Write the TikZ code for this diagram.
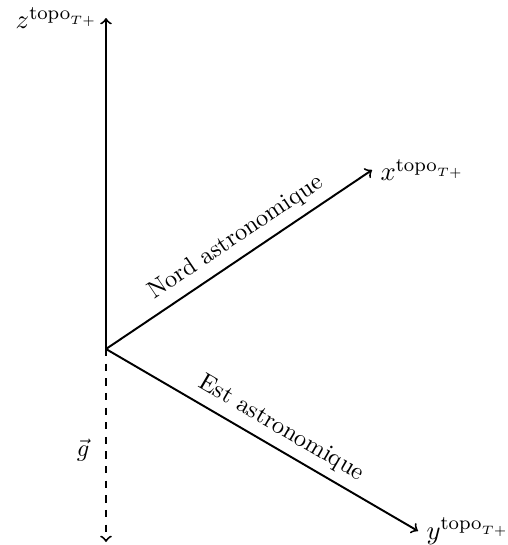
\documentclass[tikz,border=0pt]{standalone}
\begin{document}
\begin{tikzpicture}[x=0.41pt,y=-0.41pt,
  axis/.style={thick,->},
  gaxis/.style={thick,->,dashed},
  axlabel/.style={font=\fontsize{11}{13}\selectfont}]
\useasboundingbox (0,0) rectangle (508,545);
\coordinate (O) at (106,349);
\coordinate (Z) at (106,18);
\coordinate (X) at (372,170);
\coordinate (Y) at (418,531);
\coordinate (G) at (106,542);
\node[axlabel,left] (zl) at (Z) {$z^{\mathrm{topo}_{T+}}$};
\node[axlabel,right] (xl) at (X) {$x^{\mathrm{topo}_{T+}}$};
\node[axlabel,right] (yl) at (Y) {$y^{\mathrm{topo}_{T+}}$};
\node (gl) at (83,450) {$\vec{g}$};
\draw[axis] (O) -- (Z);
\draw[axis] (O) -- node[pos=0.53,above,sloped] (nord) {Nord astronomique} (X);
\draw[axis] (O) -- node[pos=0.53,above,sloped] (est) {Est astronomique} (Y);
\draw[gaxis] (O) -- (G);
\end{tikzpicture}
\end{document}
